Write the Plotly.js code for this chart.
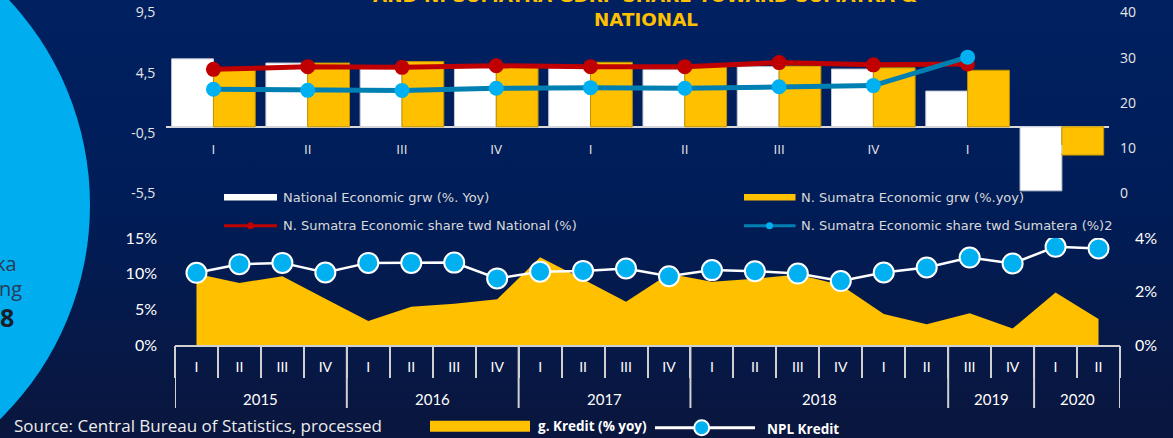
<!DOCTYPE html>
<html>
<head>
<meta charset="utf-8">
<script src="https://cdn.plot.ly/plotly-3.0.1.min.js"></script>
<style>
  html, body { margin: 0; padding: 0; }
  body { width: 1173px; height: 438px; overflow: hidden;
         background: linear-gradient(180deg, #002060 0%, #001D58 45%, #0A163D 100%); }
  #chart { width: 1173px; height: 438px; }
</style>
</head>
<body>
<div id="chart"></div>
<script>
// ---------- Top chart data (GRDP) ----------
const topPeriods = ['2018-I','2018-II','2018-III','2018-IV','2019-I','2019-II','2019-III','2019-IV','2020-I','2020-II'];
const topQuarterLabels = ['I','II','III','IV','I','II','III','IV','I','I'];
const nationalGrowth = [5.65, 5.3, 5.05, 5.0, 4.95, 4.75, 5.0, 4.8, 2.97, -5.32];
const nSumatraGrowth = [4.75, 5.3, 5.42, 5.1, 5.36, 5.0, 5.05, 4.9, 4.7, -2.35];
const shareNational = [27.4, 28.0, 27.85, 28.2, 28.0, 28.0, 28.9, 28.4, 28.6, null];
const shareSumatera = [23.0, 22.75, 22.7, 23.2, 23.35, 23.2, 23.55, 23.8, 30.1, null];
const leftTickVals = [-5.5, -0.5, 4.5, 9.5];
const leftTickText = ['-5,5', '-0,5', '4,5', '9,5'];
const rightTickVals = [0, 10, 20, 30, 40];

// ---------- Bottom chart data (credit) ----------
const periods = ['2015-I','2015-II','2015-III','2015-IV','2016-I','2016-II','2016-III','2016-IV',
  '2017-I','2017-II','2017-III','2017-IV','2018-I','2018-II','2018-III','2018-IV',
  '2019-I','2019-II','2019-III','2019-IV','2020-I','2020-II'];
const quarterLabels = ['I','II','III','IV','I','II','III','IV','I','II','III','IV',
  'I','II','III','IV','I','II','III','IV','I','II'];
const yearGroups = ['2015','2016','2017','2018','2019','2020'];
const yearGroupSizes = [4, 4, 4, 6, 2, 2];
const kreditGrowth = [10.0, 8.7, 9.65, 6.5, 3.35, 5.35, 5.8, 6.4, 12.3, 9.2, 6.05, 10.0,
  8.85, 9.3, 9.9, 8.4, 4.35, 2.9, 4.45, 2.3, 7.35, 3.65];
const nplKredit = [2.70, 3.02, 3.07, 2.71, 3.07, 3.07, 3.08, 2.49, 2.74, 2.77, 2.86, 2.57,
  2.80, 2.76, 2.67, 2.39, 2.71, 2.90, 3.27, 3.05, 3.67, 3.61];

// ---------- helpers ----------
const W = 1173, H = 438;
const px = x => x / W;
const py = y => 1 - y / H;
const MONT = '"Open Sans", "Noto Sans", sans-serif';
const WIDE = '"DejaVu Sans", "Open Sans", sans-serif';
const CAL = 'Lato, "Open Sans", sans-serif';

const traces = [
  { type: 'bar', x: topPeriods, y: nationalGrowth, xaxis: 'x', yaxis: 'y',
    marker: { color: '#FFFFFF', line: { color: '#C5CAD6', width: 1 } }, showlegend: false },
  { type: 'bar', x: topPeriods, y: nSumatraGrowth, xaxis: 'x', yaxis: 'y',
    marker: { color: '#FFC000', line: { color: '#C09000', width: 1 } }, showlegend: false },
  { type: 'scatter', mode: 'lines+markers', x: topPeriods, y: shareNational, xaxis: 'x', yaxis: 'y2',
    line: { color: '#C00000', width: 5 }, marker: { color: '#C00000', size: 15 }, showlegend: false },
  { type: 'scatter', mode: 'lines+markers', x: topPeriods, y: shareSumatera, xaxis: 'x', yaxis: 'y2',
    line: { color: '#0080B2', width: 5 }, marker: { color: '#00B0F0', size: 15 }, showlegend: false },
  { type: 'scatter', mode: 'none', fill: 'tozeroy', x: periods, y: kreditGrowth, xaxis: 'x3', yaxis: 'y3',
    fillcolor: '#FFC000', showlegend: false },
  { type: 'scatter', mode: 'lines+markers', x: periods, y: nplKredit, xaxis: 'x4', yaxis: 'y4',
    line: { color: '#FFFFFF', width: 2.5 },
    marker: { color: '#00B0F0', size: 20, line: { color: '#FFFFFF', width: 2 } }, showlegend: false }
];

// group dividers and year labels for bottom axis
const shapes = [];
const annotations = [];
let start = 0;
shapes.push({ type: 'line', xref: 'x3', yref: 'paper', x0: -0.5, x1: -0.5, y0: py(345), y1: py(408),
  line: { color: '#D0D0D0', width: 2 } });
yearGroups.forEach((yr, i) => {
  const n = yearGroupSizes[i];
  const end = start + n;
  shapes.push({ type: 'line', xref: 'x3', yref: 'paper', x0: end - 0.5, x1: end - 0.5, y0: py(345), y1: py(408),
    line: { color: '#D0D0D0', width: 2 } });
  annotations.push({ xref: 'x3', yref: 'paper', x: start + (n - 1) / 2, y: py(398.5), text: yr,
    xanchor: 'center', yanchor: 'middle',
    showarrow: false, font: { family: CAL, size: 15, color: '#FFFFFF' } });
  start = end;
});

// decorative circle
shapes.push({ type: 'circle', xref: 'paper', yref: 'paper', layer: 'below',
  x0: px(-510), x1: px(90), y0: py(505), y1: py(-95), fillcolor: '#00AEEF', line: { width: 0 } });

// top legend
shapes.push({ type: 'rect', xref: 'paper', yref: 'paper', x0: px(224), x1: px(277), y0: py(200.5), y1: py(194),
  fillcolor: '#FFFFFF', line: { width: 0 } });
shapes.push({ type: 'rect', xref: 'paper', yref: 'paper', x0: px(744), x1: px(795.5), y0: py(200.5), y1: py(194),
  fillcolor: '#FFC000', line: { width: 0 } });
shapes.push({ type: 'line', xref: 'paper', yref: 'paper', x0: px(224), x1: px(277), y0: py(225.7), y1: py(225.7),
  line: { color: '#C00000', width: 3 } });
shapes.push({ type: 'circle', xref: 'paper', yref: 'paper', x0: px(247), x1: px(254), y0: py(229.2), y1: py(222.2),
  fillcolor: '#C00000', line: { width: 0 } });
shapes.push({ type: 'line', xref: 'paper', yref: 'paper', x0: px(744), x1: px(795.5), y0: py(225.7), y1: py(225.7),
  line: { color: '#0080B2', width: 3 } });
shapes.push({ type: 'circle', xref: 'paper', yref: 'paper', x0: px(766), x1: px(773), y0: py(229.2), y1: py(222.2),
  fillcolor: '#00B0F0', line: { width: 0 } });

const legFont = { family: WIDE, size: 13, color: '#D9D9D9' };
[['National Economic grw (%. Yoy)', 281, 197.3], ['N. Sumatra Economic grw (%.yoy)', 799, 197.3],
 ['N. Sumatra Economic share twd National (%)', 281, 225.7], ['N. Sumatra Economic share twd Sumatera (%)2', 799, 225.7]]
 .forEach(([t, x, y]) => annotations.push({ xref: 'paper', yref: 'paper', x: px(x), y: py(y), text: t,
   xanchor: 'left', yanchor: 'middle', showarrow: false, font: legFont }));

// bottom legend
shapes.push({ type: 'rect', xref: 'paper', yref: 'paper', x0: px(430), x1: px(530), y0: py(431.7), y1: py(420.7),
  fillcolor: '#FFC000', line: { width: 0 } });
shapes.push({ type: 'line', xref: 'paper', yref: 'paper', x0: px(655), x1: px(755), y0: py(427.7), y1: py(427.7),
  line: { color: '#FFFFFF', width: 3 } });
shapes.push({ type: 'circle', xref: 'paper', yref: 'paper', x0: px(694.2), x1: px(709.2), y0: py(435.2), y1: py(420.2),
  fillcolor: '#00B0F0', line: { color: '#FFFFFF', width: 2 } });
annotations.push({ xref: 'paper', yref: 'paper', x: px(536), y: py(425.7), text: '<b>g. Kredit (% yoy)</b>',
  xanchor: 'left', yanchor: 'middle', showarrow: false, font: { family: MONT, size: 13.5, color: '#FFFFFF' } });
annotations.push({ xref: 'paper', yref: 'paper', x: px(765), y: py(428.5), text: '<b>NPL Kredit</b>',
  xanchor: 'left', yanchor: 'middle', showarrow: false, font: { family: MONT, size: 13.5, color: '#FFFFFF' } });

// source
annotations.push({ xref: 'paper', yref: 'paper', x: px(12), y: py(425), text: 'Source: Central Bureau of Statistics, processed',
  xanchor: 'left', yanchor: 'middle', showarrow: false, font: { family: MONT, size: 17, color: '#EDEDED' } });

// title (cropped first line)
annotations.push({ xref: 'paper', yref: 'paper', x: px(645), y: py(-5), text: '<b>AND N. SUMATRA GDRP SHARE TOWARD SUMATRA &amp;</b>',
  xanchor: 'center', yanchor: 'middle', showarrow: false, font: { family: '"DejaVu Sans", sans-serif', size: 18.3, color: '#FFC000' } });
annotations.push({ xref: 'paper', yref: 'paper', x: px(645.5), y: py(19.3), text: '<b>NATIONAL</b>',
  xanchor: 'center', yanchor: 'middle', showarrow: false, font: { family: '"DejaVu Sans", sans-serif', size: 18.3, color: '#FFC000' } });

// cropped side text on circle
annotations.push({ xref: 'paper', yref: 'paper', x: px(19), y: py(263), text: 'ka', xanchor: 'right', yanchor: 'middle',
  showarrow: false, font: { family: MONT, size: 20, color: '#2A3A58' } });
annotations.push({ xref: 'paper', yref: 'paper', x: px(24), y: py(288), text: 'ng', xanchor: 'right', yanchor: 'middle',
  showarrow: false, font: { family: MONT, size: 20, color: '#2A3A58' } });
annotations.push({ xref: 'paper', yref: 'paper', x: px(16), y: py(317), text: '<b>8</b>', xanchor: 'right', yanchor: 'middle',
  showarrow: false, font: { family: MONT, size: 25, color: '#1A1D2B' } });

const axFontTop = { family: MONT, size: 14, color: '#E6E6E6' };
const axFontBot = { family: CAL, size: 16, color: '#FFFFFF' };

const layout = {
  width: W, height: H, autosize: false,
  margin: { l: 0, r: 0, t: 0, b: 0 },
  paper_bgcolor: 'rgba(0,0,0,0)', plot_bgcolor: 'rgba(0,0,0,0)',
  barmode: 'group', bargap: 0.113, bargroupgap: 0,
  showlegend: false,
  xaxis: { domain: [px(166.3), px(1109)], anchor: 'free', position: py(127), type: 'category',
    range: [-0.5, topPeriods.length - 0.5], tickmode: 'array', tickvals: topPeriods, ticktext: topQuarterLabels,
    ticks: '', showline: false, showgrid: false, zeroline: false, ticklabelstandoff: 12,
    tickfont: { family: MONT, size: 13.5, color: '#E6E6E6' } },
  yaxis: { domain: [py(193), py(12.5)], range: [-5.5, 9.5], tickmode: 'array', tickvals: leftTickVals, ticktext: leftTickText,
    showgrid: false, zeroline: true, zerolinecolor: '#D9D9D9', zerolinewidth: 2, showline: false,
    ticks: '', ticklabelstandoff: 10, tickfont: axFontTop },
  yaxis2: { overlaying: 'y', side: 'right', anchor: 'x', range: [0, 40], tickmode: 'array', tickvals: rightTickVals,
    showgrid: false, zeroline: false, showline: false, ticks: '', ticklabelstandoff: 10, tickfont: axFontTop },
  xaxis3: { domain: [px(175), px(1120)], anchor: 'y3', type: 'category', range: [-0.5, periods.length - 0.5],
    tickmode: 'array', tickvals: periods, ticktext: quarterLabels, ticks: '', showgrid: false, zeroline: false,
    showline: true, linecolor: '#D0D0D0', linewidth: 2, ticklabelstandoff: 8,
    tickfont: { family: CAL, size: 14, color: '#FFFFFF' } },
  xaxis4: { overlaying: 'x3', anchor: 'y4', type: 'category', range: [-0.5, periods.length - 0.5],
    tickmode: 'array', tickvals: periods, ticks: 'outside', tickson: 'boundaries', ticklen: 32, tickwidth: 2,
    tickcolor: '#D0D0D0', showticklabels: false, showgrid: false, zeroline: false, showline: false },
  yaxis3: { domain: [py(345), py(238)], anchor: 'x3', range: [0, 15], dtick: 5, ticksuffix: '%',
    showgrid: false, zeroline: false, showline: false, ticks: '', ticklabelstandoff: 17, tickfont: axFontBot },
  yaxis4: { overlaying: 'y3', side: 'right', anchor: 'x3', range: [0, 4], dtick: 2, ticksuffix: '%',
    showgrid: false, zeroline: false, showline: false, ticks: '', ticklabelstandoff: 14, tickfont: axFontBot },
  shapes: shapes,
  annotations: annotations
};

Plotly.newPlot('chart', traces, layout, { staticPlot: true, displayModeBar: false });
</script>
</body>
</html>
